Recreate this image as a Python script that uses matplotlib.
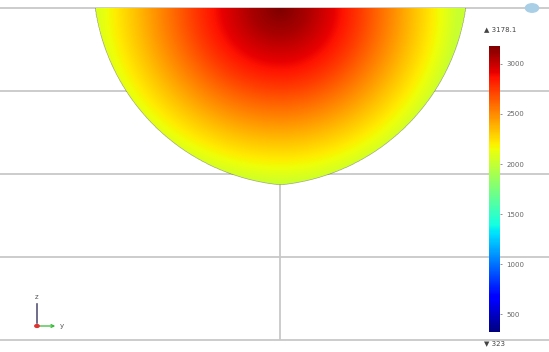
import matplotlib

matplotlib.use("Agg")
import matplotlib.pyplot as plt
import numpy as np
from matplotlib.patches import Circle

# temperature field (radial profile from the hot spot to the rim)
t_max = 3178.1
t_min = 323
profile_s = [0.0, 0.15, 0.3, 0.45, 0.6, 0.75, 0.9, 1.0]
profile_t = [3178, 3070, 2920, 2740, 2540, 2340, 2150, 2010]
cbar_ticks = [500, 1000, 1500, 2000, 2500, 3000]
grid_z = [0, -1, -2, -3, -4]
grid_x = [0]

# domain geometry (grid units)
half_width = 2.23
depth = 2.13
cusp_offset = 0.24

plt.rcParams["font.family"] = ["DejaVu Sans"]

fig = plt.figure(figsize=(5.49, 3.52), dpi=100)
ax = fig.add_axes([0, 0, 1, 1])
ax.set_xlim(-280 / 83, 269 / 83)
ax.set_ylim(-344 / 83, 8 / 83)
ax.set_aspect("auto")
ax.axis("off")

for z in grid_z:
    ax.axhline(z, color="#c8c8c8", lw=1.3, zorder=1)
ax.vlines(grid_x, min(grid_z), max(grid_z), color="#c8c8c8", lw=1.3, zorder=1)

# ogive-shaped bowl: two circular arcs meeting in a slight point at the bottom
a = cusp_offset
b = ((half_width + a) ** 2 - a ** 2 - depth ** 2) / (2 * depth)
rho = np.hypot(half_width + a, b)

xs = np.linspace(-half_width, half_width, 700)
zs = np.linspace(-depth, 0, 700)
X, Z = np.meshgrid(xs, zs)
cx = np.where(X < 0, a, -a)
inside = (X - cx) ** 2 + (Z - b) ** 2 <= rho ** 2

sx = np.where(X < 0, X / (half_width * 1.04), X / (half_width * 0.96))
s = np.clip(np.sqrt(sx ** 2 + (Z / depth) ** 2), 0, 1)
T = np.interp(s, profile_s, profile_t)
T = np.ma.masked_where(~inside, T)

im = ax.imshow(T, extent=[-half_width, half_width, -depth, 0], origin="lower",
               cmap="jet", vmin=t_min, vmax=t_max, interpolation="bilinear", zorder=2)

# colour bar
cax = fig.add_axes([489 / 549, 20 / 352, 11 / 549, 286 / 352])
cb = fig.colorbar(im, cax=cax, ticks=cbar_ticks)
cb.outline.set_visible(False)
cax.tick_params(labelsize=5, colors="#666666", length=1.5, width=0.5, pad=3)
fig.text(484 / 549, 1 - 29 / 352, "\u25b2 3178.1", fontsize=5, color="#444444",
         ha="left", va="center")
fig.text(484 / 549, 1 - 343 / 352, "\u25bc 323", fontsize=5, color="#444444",
         ha="left", va="center")

# small axis triad bottom-left
ax.annotate("", xy=(37, 352 - 301), xytext=(37, 352 - 326), xycoords="figure pixels",
            arrowprops=dict(arrowstyle="-", color="#555577", lw=1.2))
ax.annotate("", xy=(58, 352 - 326), xytext=(37, 352 - 326), xycoords="figure pixels",
            arrowprops=dict(arrowstyle="->", color="#33bb33", lw=0.9, mutation_scale=5))
fig.text(37 / 549, 1 - 297 / 352, "z", fontsize=5, color="#555555", ha="center", va="center")
fig.text(62 / 549, 1 - 326 / 352, "y", fontsize=5, color="#555555", ha="center", va="center")
fig.add_artist(Circle((37 / 549, 1 - 326 / 352), 0.004, transform=fig.transFigure,
                      color="#dd3333", zorder=5))

# partially visible toolbar icon top-right
fig.add_artist(Circle((532 / 549, 1 - 8 / 352), 0.012, transform=fig.transFigure,
                      color="#a9cfe6", zorder=5))

fig.savefig("out.png", dpi=100)
